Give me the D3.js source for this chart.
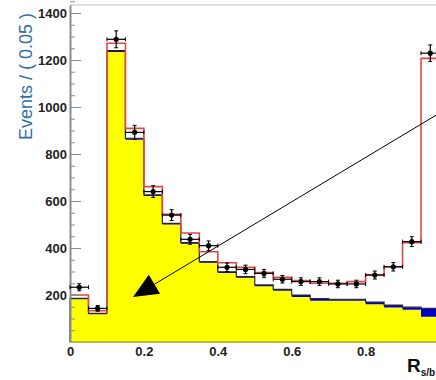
<html>
<head>
<script src="https://d3js.org/d3.v7.min.js"></script>
<style>
body { margin: 0; background: #fff; }
text { font-family: "Liberation Sans", Arial, sans-serif; }
</style>
</head>
<body>
<svg width="436" height="380" id="chart"></svg>
<script>
// bins of R_s/b, width 0.05
var binLow = [0.00, 0.05, 0.10, 0.15, 0.20, 0.25, 0.30, 0.35, 0.40, 0.45,
              0.50, 0.55, 0.60, 0.65, 0.70, 0.75, 0.80, 0.85, 0.90, 0.95];
var binWidth = 0.05;
// yellow background component
var yellowBkg = [182, 118, 1234, 861, 621, 500, 418, 337, 294, 273,
                 237, 218, 191, 175, 175, 175, 161, 147, 137, 107];
// blue background component (stacked on yellow)
var blueBkg = [4, 4, 6, 6, 5, 5, 5, 5, 5, 5,
               6, 6, 9, 10, 7, 7, 9, 10, 11, 36];
// total fit (red)
var totalFit = [200, 133, 1271, 909, 661, 543, 464, 384, 337, 318,
                295, 275, 261, 250, 250, 257, 285, 320, 423, 1207];
// data points
var dataY = [233, 143, 1288, 892, 640, 540, 437, 410, 318, 309,
             292, 267, 257, 257, 247, 247, 285, 320, 427, 1229];
var dataErr = [15, 12, 36, 30, 25, 23, 21, 20, 18, 18,
               17, 16, 16, 16, 16, 16, 17, 18, 21, 35];
var yTicks = [200, 400, 600, 800, 1000, 1200, 1400];
var yMinor = [50, 100, 150, 250, 300, 350, 450, 500, 550, 650, 700, 750, 850, 900, 950,
              1050, 1100, 1150, 1250, 1300, 1350, 1400, 1450];
var xTicks = [0, 0.2, 0.4, 0.6, 0.8];
var arrowTip = [0.1705, 191];
var arrowEnd = [1.0, 974];

var svg = d3.select("#chart");
var x = d3.scaleLinear().domain([0, 1]).range([70, 439.5]);
var y = d3.scaleLinear().domain([0, 1434]).range([342, 5]);

// step points (with closing point at the last bin edge)
function steps(vals) {
  var pts = binLow.map((b, i) => ({x: b, v: vals[i], i: i}));
  pts.push({x: binLow[binLow.length - 1] + binWidth, v: vals[vals.length - 1], i: vals.length - 1});
  return pts;
}

var topBkg = yellowBkg.map((v, i) => v + blueBkg[i]);

// yellow fill
svg.append("path")
  .datum(steps(yellowBkg))
  .attr("fill", "#ffff00")
  .attr("d", d3.area().curve(d3.curveStepAfter)
     .x(d => x(d.x)).y0(y(0)).y1(d => y(d.v)));

// blue stacked
svg.append("path")
  .datum(steps(blueBkg))
  .attr("fill", "#0000cc")
  .attr("d", d3.area().curve(d3.curveStepAfter)
     .x(d => x(d.x)).y0(d => y(yellowBkg[d.i])).y1(d => y(yellowBkg[d.i] + d.v)));

// background outline
var bkgLine = steps(topBkg);
bkgLine.unshift({x: 0, v: 0});
svg.append("path")
  .datum(bkgLine)
  .attr("fill", "none")
  .attr("stroke", "#2a2a2a")
  .attr("stroke-width", 1.2)
  .attr("d", d3.line().curve(d3.curveStepAfter).x(d => x(d.x)).y(d => y(d.v)));

// total fit red
svg.append("path")
  .datum(steps(totalFit))
  .attr("fill", "none")
  .attr("stroke", "#e04848")
  .attr("stroke-width", 1.6)
  .attr("d", d3.line().curve(d3.curveStepAfter).x(d => x(d.x)).y(d => y(d.v)));

// axes frame
svg.append("line").attr("x1", x(0)).attr("x2", 436).attr("y1", 5).attr("y2", 5)
  .attr("stroke", "#d0d0d0").attr("stroke-width", 1.5);
svg.append("line").attr("x1", x(0)).attr("x2", 436).attr("y1", y(0)).attr("y2", y(0))
  .attr("stroke", "#a0a020").attr("stroke-width", 1.5);

var yMinorAxis = svg.append("g")
  .attr("transform", "translate(" + x(0) + ",0)")
  .call(d3.axisLeft(y).tickValues(yMinor).tickSizeInner(-5).tickSizeOuter(0).tickFormat(""));
var yAxis = svg.append("g")
  .attr("transform", "translate(" + x(0) + ",0)")
  .call(d3.axisLeft(y).tickValues(yTicks).tickSizeInner(-11).tickSizeOuter(0).tickPadding(3)
        .tickFormat(d3.format("d")));
yAxis.select(".domain").attr("stroke", "#8c8c8c").attr("stroke-width", 2);
yAxis.selectAll(".tick line").attr("stroke", "#8c8c8c");
yMinorAxis.select(".domain").remove();
yMinorAxis.selectAll(".tick line").attr("stroke", "#8c8c8c");
yAxis.selectAll("text")
  .attr("fill", "#222").style("font-size", "13px").style("font-weight", "bold")
  .style("font-family", "'Liberation Sans', Arial, sans-serif");

var xAxis = svg.append("g")
  .attr("transform", "translate(0," + y(0) + ")")
  .call(d3.axisBottom(x).tickValues(xTicks).tickSize(0).tickPadding(5)
        .tickFormat(d => d === 0 ? "0" : d3.format(".1f")(d)));
xAxis.select(".domain").remove();
xAxis.selectAll("text")
  .attr("fill", "#222").style("font-size", "13px").style("font-weight", "bold")
  .style("font-family", "'Liberation Sans', Arial, sans-serif");

// axis titles
svg.append("text")
  .attr("transform", "translate(32,13) rotate(-90)")
  .attr("text-anchor", "end")
  .attr("fill", "#3271a8")
  .style("font-size", "18px")
  .text("Events / ( 0.05 )");

var xt = svg.append("text")
  .attr("x", 407).attr("y", 372)
  .attr("fill", "#111")
  .style("font-size", "19px").style("font-weight", "bold")
  .text("R");
xt.append("tspan").attr("dy", 4).style("font-size", "10px").text("s/b");

// data points with error bars
var pts = svg.append("g").selectAll("g")
  .data(dataY.map((v, i) => ({lo: binLow[i], v: v, e: dataErr[i]})))
  .enter().append("g");
pts.append("line")
  .attr("x1", d => x(d.lo)).attr("x2", d => x(d.lo + binWidth))
  .attr("y1", d => y(d.v)).attr("y2", d => y(d.v))
  .attr("stroke", "#000").attr("stroke-width", 1.2);
pts.append("line")
  .attr("x1", d => x(d.lo + binWidth / 2)).attr("x2", d => x(d.lo + binWidth / 2))
  .attr("y1", d => y(d.v - d.e)).attr("y2", d => y(d.v + d.e))
  .attr("stroke", "#000").attr("stroke-width", 1.2);
pts.append("path")
  .attr("d", d => {
    var cx = x(d.lo + binWidth / 2);
    return "M" + (cx - 2) + "," + y(d.v + d.e) + "H" + (cx + 2) +
           "M" + (cx - 2) + "," + y(d.v - d.e) + "H" + (cx + 2) +
           "M" + x(d.lo) + "," + (y(d.v) - 2) + "V" + (y(d.v) + 2) +
           "M" + x(d.lo + binWidth) + "," + (y(d.v) - 2) + "V" + (y(d.v) + 2);
  })
  .attr("stroke", "#000").attr("stroke-width", 1);
pts.append("circle")
  .attr("cx", d => x(d.lo + binWidth / 2)).attr("cy", d => y(d.v))
  .attr("r", 2.6).attr("fill", "#000");

// arrow annotation
var tx = x(arrowTip[0]), ty = y(arrowTip[1]);
var ex = x(arrowEnd[0]), ey = y(arrowEnd[1]);
var len = Math.hypot(ex - tx, ey - ty);
var ux = (ex - tx) / len, uy = (ey - ty) / len;
var headLen = 25, headHalf = 11;
var bx = tx + ux * headLen, by = ty + uy * headLen;
svg.append("line")
  .attr("x1", bx).attr("y1", by).attr("x2", ex).attr("y2", ey)
  .attr("stroke", "#000").attr("stroke-width", 1);
svg.append("path")
  .attr("d", "M" + tx + "," + ty +
             "L" + (bx - uy * headHalf) + "," + (by + ux * headHalf) +
             "L" + (bx + uy * headHalf) + "," + (by - ux * headHalf) + "Z")
  .attr("fill", "#000");
</script>
</body>
</html>
